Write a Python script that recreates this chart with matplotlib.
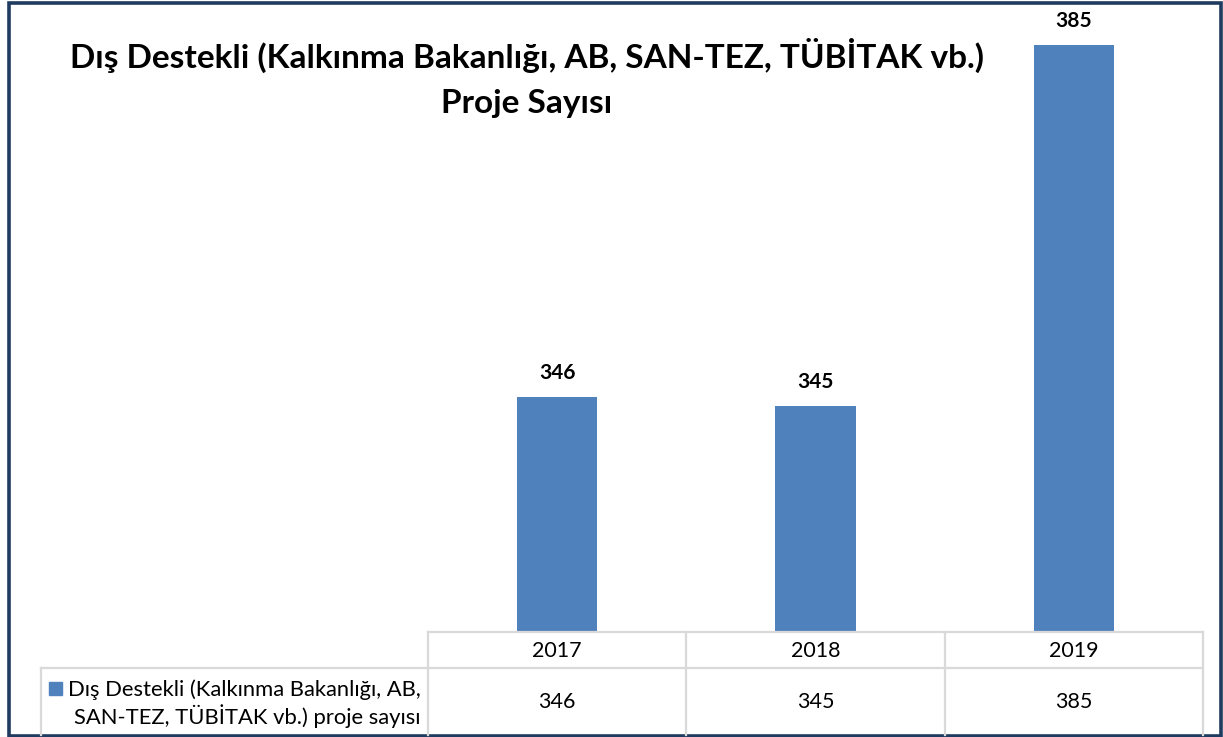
import matplotlib.pyplot as plt
import numpy as np

plt.rcParams['font.family'] = ['Lato', 'DejaVu Sans']

# Data
years = ['2017', '2018', '2019']
projects = [346, 345, 385]
series_name = 'Dış Destekli (Kalkınma Bakanlığı, AB,\nSAN-TEZ, TÜBİTAK vb.) proje sayısı'
title = 'Dış Destekli (Kalkınma Bakanlığı, AB, SAN-TEZ, TÜBİTAK vb.)\nProje Sayısı'

W, H = 1223, 737
bar_color = '#4F81BD'
grid_color = '#D9D9D9'

fig = plt.figure(figsize=(W / 100, H / 100), dpi=100)

# plot area (pixel layout of the reference)
left, right, bottom = 428, 1203, 632
ax = fig.add_axes([left / W, 1 - bottom / H, (right - left) / W, bottom / H])
X = np.arange(len(years))
ax.bar(X, projects, width=0.31, color=bar_color)
ax.set_xlim(-0.5, len(years) - 0.5)
ax.set_ylim(320, 390)
ax.axis('off')
for i, v in enumerate(projects):
    ax.annotate(str(v), (X[i], v), xytext=(0, 10), textcoords='offset points',
                ha='center', va='bottom', fontsize=15, fontweight='bold')

# overlay in pixel coordinates for the data table, title and frame
ov = fig.add_axes([0, 0, 1, 1], zorder=5)
ov.set_xlim(0, W)
ov.set_ylim(H, 0)
ov.axis('off')
ov.patch.set_alpha(0)

ov.text(527, 78, title, ha='center', va='center', fontsize=24, fontweight='bold',
        linespacing=1.65)

# data table
col_w = (right - left) / len(years)
row1, row2, row3 = 632, 668, 735
lw = 1.6
ov.plot([left, right], [row1, row1], color=grid_color, lw=lw)
ov.plot([41, right], [row2, row2], color=grid_color, lw=lw)
ov.plot([41, 41], [row2, row3], color=grid_color, lw=lw)
for k in range(len(years) + 1):
    xx = left + k * col_w
    ov.plot([xx, xx], [row1, row3], color=grid_color, lw=lw)
for k, (yr, v) in enumerate(zip(years, projects)):
    cx = left + (k + 0.5) * col_w
    ov.text(cx, (row1 + row2) / 2 + 1, yr, ha='center', va='center', fontsize=15.5)
    ov.text(cx, (row2 + row3) / 2 + 1, str(v), ha='center', va='center', fontsize=15.5)

ov.add_patch(plt.Rectangle((49, 682), 13, 13, color=bar_color))
ov.text(244, (row2 + row3) / 2 + 2, series_name, ha='center', va='center',
        fontsize=15.8, linespacing=1.2, multialignment='right')

# outer frame
ov.add_patch(plt.Rectangle((8.5, 2.5), 1212, 733, fill=False, edgecolor='#1F3B5F', lw=2.6))

fig.savefig('out.png', dpi=100)
